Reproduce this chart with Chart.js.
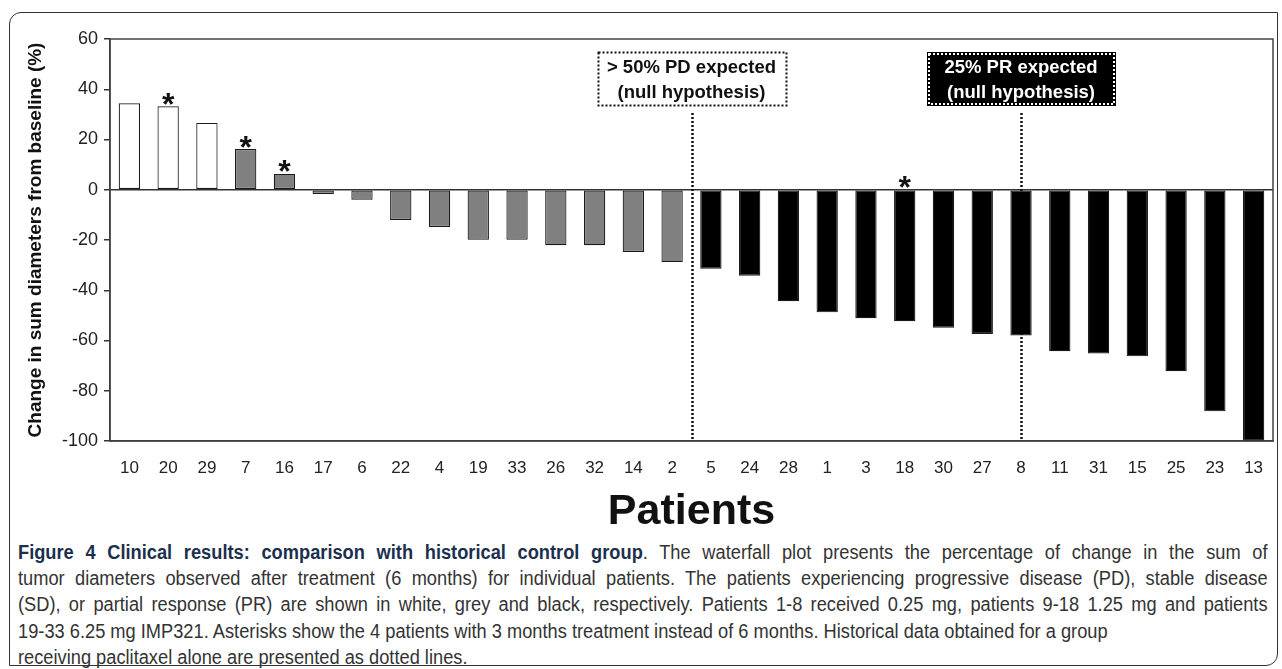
<!DOCTYPE html>
<html>
<head>
<meta charset="utf-8">
<script src="https://cdn.jsdelivr.net/npm/chart.js@4.4.1/dist/chart.umd.min.js"></script>
<style>
  html, body { margin: 0; padding: 0; background: #fff; }
  body { width: 1282px; height: 669px; position: relative; overflow: hidden;
         font-family: "Liberation Sans", Arial, sans-serif; }
  #frame { position: absolute; left: 9px; top: 12px; width: 1269px; height: 654px;
           border: 1.5px solid #333; border-radius: 12px 0 12px 0; box-sizing: border-box; }
  #wrap { position: absolute; left: 0; top: 0; width: 1282px; height: 538px; }
  /* caption set slightly condensed: laid out wider, then squeezed horizontally */
  #caption { position: absolute; left: 18px; top: 539px; width: 1335px;
             transform: scaleX(0.936); transform-origin: 0 0;
             font-size: 19.5px; line-height: 26.2px; color: #333; }
  #caption div { white-space: nowrap; }
  #caption div.j { text-align: justify; text-align-last: justify; }
  #caption b { color: #1b2f4f; }
</style>
</head>
<body>
<div id="frame"></div>
<div id="wrap"><canvas id="c"></canvas></div>
<div id="caption">
  <div class="j"><b>Figure 4 Clinical results: comparison with historical control group</b>. The waterfall plot presents the percentage of change in the sum of</div>
  <div class="j">tumor diameters observed after treatment (6 months) for individual patients. The patients experiencing progressive disease (PD), stable disease</div>
  <div class="j">(SD), or partial response (PR) are shown in white, grey and black, respectively. Patients 1-8 received 0.25 mg, patients 9-18 1.25 mg and patients</div>
  <div>19-33 6.25 mg IMP321. Asterisks show the 4 patients with 3 months treatment instead of 6 months. Historical data obtained for a group</div>
  <div>receiving paclitaxel alone are presented as dotted lines.</div>
</div>
<script>
// Patient IDs in waterfall order
const patients = ['10','20','29','7','16','17','6','22','4','19','33','26','32','14','2',
                  '5','24','28','1','3','18','30','27','8','11','31','15','25','23','13'];
// Change in sum of tumor diameters from baseline (%)
const change = [34.4, 33.2, 26.6, 16.2, 6.3, -1.7, -4.0, -12.0, -14.8, -19.9, -19.9, -22.1, -22.1, -24.8, -28.8,
                -31.4, -34.2, -44.4, -48.8, -51.1, -52.3, -54.9, -57.4, -58.0, -64.3, -65.2, -66.3, -72.2, -88.2, -100];
// Response category per patient
const response = ['PD','PD','PD','SD','SD','SD','SD','SD','SD','SD','SD','SD','SD','SD','SD',
                  'PR','PR','PR','PR','PR','PR','PR','PR','PR','PR','PR','PR','PR','PR','PR'];
// Patients treated 3 months instead of 6
const threeMonthPatients = ['20','7','16','18'];
// Y axis range and step
const yMin = -100, yMax = 60, yStep = 20;
// Historical control thresholds (position in patient order) and their labels
const historicalAt = [14.5, 23];
const historicalText = [['> 50% PD expected', '(null hypothesis)'], ['25% PR expected', '(null hypothesis)']];

const responseColor = { PD: '#ffffff', SD: '#808080', PR: '#000000' };
const FONT = '"Liberation Sans", Arial, sans-serif';

function xAt(scale, pos) {
  const i0 = Math.floor(pos), i1 = Math.ceil(pos);
  const p0 = scale.getPixelForValue(i0), p1 = scale.getPixelForValue(i1);
  return p0 + (p1 - p0) * (pos - i0);
}

const overlay = {
  id: 'overlay',
  beforeDatasetsDraw(chart) {
    const { ctx, chartArea, scales: { x } } = chart;
    ctx.save();
    ctx.strokeStyle = '#111';
    ctx.lineWidth = 2.5;
    ctx.setLineDash([2, 2]);
    historicalAt.forEach(pos => {
      const px = Math.round(xAt(x, pos)) + 0.5;
      ctx.beginPath();
      ctx.moveTo(px, chartArea.top + 74);
      ctx.lineTo(px, chartArea.bottom);
      ctx.stroke();
    });
    ctx.restore();
  },
  afterDatasetsDraw(chart) {
    const { ctx, chartArea, scales: { x, y } } = chart;
    ctx.save();
    // plot frame
    ctx.strokeStyle = '#444';
    ctx.lineWidth = 1.5;
    ctx.strokeRect(chartArea.left, chartArea.top, chartArea.right - chartArea.left, chartArea.bottom - chartArea.top);

    // asterisks over 3-month patients
    ctx.fillStyle = '#111';
    ctx.font = 'bold 32px ' + FONT;
    ctx.textAlign = 'center';
    ctx.textBaseline = 'alphabetic';
    threeMonthPatients.forEach(p => {
      const i = patients.indexOf(p);
      const top = y.getPixelForValue(Math.max(0, change[i]));
      ctx.fillText('*', x.getPixelForValue(i), top + 8.5);
    });

    // threshold label boxes
    historicalAt.forEach((pos, k) => {
      const cx = xAt(x, pos);
      const w = 188, h = 53;
      const bx = Math.round(cx - w / 2) + 0.5, by = chartArea.top + 13.5;
      const dark = k === 1;
      ctx.setLineDash([]);
      ctx.fillStyle = dark ? '#000' : '#fff';
      ctx.fillRect(bx, by, w, h);
      ctx.setLineDash([2, 2]);
      ctx.lineWidth = 2;
      ctx.strokeStyle = dark ? '#fff' : '#111';
      ctx.strokeRect(bx + (dark ? 1.5 : 0), by + (dark ? 1.5 : 0), w - (dark ? 3 : 0), h - (dark ? 3 : 0));
      if (dark) {
        ctx.setLineDash([]);
        ctx.lineWidth = 1;
        ctx.strokeStyle = '#000';
        ctx.strokeRect(bx, by, w, h);
      }
      ctx.fillStyle = dark ? '#fff' : '#111';
      ctx.font = 'bold 18.5px ' + FONT;
      ctx.textBaseline = 'middle';
      ctx.fillText(historicalText[k][0], cx, by + 15);
      ctx.fillText(historicalText[k][1], cx, by + 40);
    });
    ctx.restore();
  }
};

new Chart(document.getElementById('c'), {
  type: 'bar',
  data: {
    labels: patients,
    datasets: [{
      data: change,
      backgroundColor: response.map(r => responseColor[r]),
      borderColor: '#1a1a1a',
      borderWidth: 1.2,
      borderSkipped: false,
      barPercentage: 0.55,
      categoryPercentage: 1.0
    }]
  },
  options: {
    responsive: true,
    maintainAspectRatio: false,
    animation: false,
    events: [],
    layout: { padding: { top: 39, right: 9, left: 0, bottom: 0 } },
    plugins: { legend: { display: false }, tooltip: { enabled: false } },
    scales: {
      x: {
        afterFit: s => { s.height = 97; },
        grid: { display: false },
        border: { display: true, color: '#333', width: 1.5 },
        ticks: { color: '#222', font: { family: FONT, size: 17 }, padding: 9, maxRotation: 0, autoSkip: false },
        title: { display: true, text: 'Patients', color: '#111', font: { family: FONT, size: 43, weight: 'bold' }, padding: { top: 0, bottom: 0 } }
      },
      y: {
        min: yMin, max: yMax,
        afterFit: s => { s.width = 110; },
        border: { display: true, color: '#333', width: 1.5 },
        grid: {
          color: c => (c.tick && c.tick.value === 0) ? '#333' : 'rgba(0,0,0,0)',
          lineWidth: 1.5,
          tickColor: '#333',
          tickLength: 6,
          drawTicks: true
        },
        ticks: { stepSize: yStep, color: '#222', font: { family: FONT, size: 18 }, padding: 6 },
        title: { display: true, text: 'Change in sum diameters from baseline (%)', color: '#111',
                 font: { family: FONT, size: 19, weight: 'bold' }, padding: { top: 24, bottom: 0 } }
      }
    }
  },
  plugins: [overlay]
});
</script>
</body>
</html>
